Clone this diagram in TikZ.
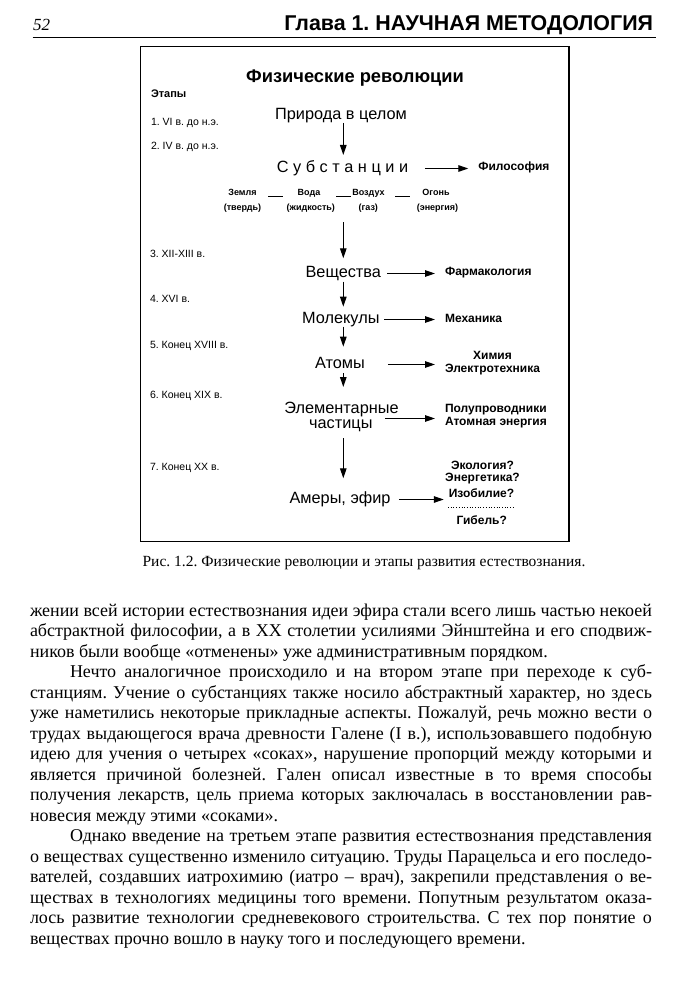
\documentclass[tikz,border=0pt]{standalone}
\usepackage{fontspec}
\setmainfont{Liberation Serif}
\newfontfamily\sansf{Liberation Sans}
\usetikzlibrary{arrows.meta,calc}
\frenchspacing
\newcommand\fsz[1]{\fontsize{#1}{#1}\selectfont}
\newcommand\jfull[1]{\makebox[622pt][s]{#1}}
\newcommand\jind[1]{\makebox[582pt][s]{#1}}
\begin{document}
\frenchspacing
\begin{tikzpicture}[x=1pt,y=-1pt,
  every node/.style={inner sep=0pt,outer sep=0pt},
  bodyline/.style={anchor=base west,font=\fsz{18}},
  stagelbl/.style={anchor=base west,font=\sansf\fsz{10.5}},
  mainlbl/.style={anchor=base,font=\sansf\fsz{16.3},text height=11pt,text depth=3pt},
  sidelbl/.style={font=\sansf\bfseries\fsz{12}},
  elemlbl/.style={anchor=base,font=\sansf\bfseries\fsz{9},text height=7pt,text depth=2pt},
  arr/.style={line width=1.2pt,-{Triangle[length=10pt,width=6.5pt]}},
  bar/.style={line width=0.9pt}
]
\useasboundingbox (0,0) rectangle (683,1000);
\fill[white] (0,0) rectangle (683,1000);

% header
\node[anchor=base west,font=\itshape\fsz{17}] (pnum) at (33,31) {52};
\node[anchor=base east,font=\sansf\bfseries\fsz{21.4}] (chap) at (653,31) {Глава 1. НАУЧНАЯ МЕТОДОЛОГИЯ};
\coordinate (ruleL) at (32.7,37.5);
\coordinate (ruleR) at (655.5,37.5);
\draw[line width=1.3pt] (ruleL) -- (ruleR);

% figure frame
\coordinate (boxNW) at (140.5,46.5);
\coordinate (boxSE) at (569,541.5);
\draw[line width=1.8pt] (boxNW) rectangle (boxSE);

\node[anchor=base,font=\sansf\bfseries\fsz{18.3}] (title) at (355,82.5) {Физические революции};

% stages
\node[anchor=base west,font=\sansf\bfseries\fsz{11}] (etapy) at (151,98) {Этапы};
\node[stagelbl] (s1) at (151,126) {1. VI в. до н.э.};
\node[stagelbl] (s2) at (151,150) {2. IV в. до н.э.};
\node[stagelbl] (s3) at (150,257) {3. XII-XIII в.};
\node[stagelbl] (s4) at (150,302.5) {4. XVI в.};
\node[stagelbl] (s5) at (150,348.5) {5. Конец XVIII в.};
\node[stagelbl] (s6) at (150,398.5) {6. Конец XIX в.};
\node[stagelbl] (s7) at (150,470) {7. Конец XX в.};

% main chain
\coordinate (ax) at (343.3,0);
\node[mainlbl] (prir) at (341,119.5) {Природа в целом};
\node[mainlbl] (subst) at (342.5,172.5) {С у б с т а н ц и и};
\node[mainlbl] (vesh) at (343.3,277.5) {Вещества};
\node[mainlbl] (mol) at (340.8,323.5) {Молекулы};
\node[mainlbl] (atom) at (340,368.5) {Атомы};
\node[mainlbl] (elem) at (341.5,413.5) {Элементарные};
\node[mainlbl] (chast) at (340.8,428.5) {частицы};
\node[mainlbl] (amer) at (340,503.5) {Амеры, эфир};

% elements
\node[elemlbl] (zem) at (242.5,195.5) {Земля};
\node[elemlbl] (voda) at (309,195.5) {Вода};
\node[elemlbl] (vozd) at (368.5,195.5) {Воздух};
\node[elemlbl] (ogon) at (436,195.5) {Огонь};
\node[elemlbl] (tverd) at (242.5,210.5) {(твердь)};
\node[elemlbl] (zhid) at (310.8,210.5) {(жидкость)};
\node[elemlbl] (gaz) at (368.3,210.5) {(газ)};
\node[elemlbl] (energ) at (437.5,210.5) {(энергия)};
\draw[bar] ($(zem.base)!0.5!(voda.base)+(-7.5,1)$) -- ++(15,0);
\draw[bar] ($(voda.base)!0.5!(vozd.base)+(-2.5,1)$) -- ++(15,0);
\draw[bar] ($(vozd.base)!0.5!(ogon.base)+(-7,1)$) -- ++(15,0);

% side labels
\node[sidelbl,anchor=west] (fil) at (478.3,167) {Философия};
\node[sidelbl,anchor=west] (farm) at (445,272.7) {Фармакология};
\node[sidelbl,anchor=west] (meh) at (445,318.3) {Механика};
\node[sidelbl,align=center] (him) at (492.5,363) {Химия\\[1pt]Электротехника};
\node[sidelbl,align=left,anchor=west] (polu) at (445,415.8) {Полупроводники\\[1pt]Атомная энергия};
\node[sidelbl] (eko) at (482.5,465) {Экология?};
\node[sidelbl] (energet) at (482.5,479) {Энергетика?};
\node[sidelbl] (izob) at (481.5,492.7) {Изобилие?};
\node[sidelbl] (gib) at (481.7,520) {Гибель?};
\coordinate (dotL) at (448,507.3);
\coordinate (dotR) at (515,507.3);
\draw[line width=0.7pt,dotted] (dotL) -- (dotR);

% vertical arrows
\draw[arr,shorten <=0.5pt,shorten >=6.5pt] (prir.south -| ax) -- (subst.north -| ax);
\draw[arr,shorten <=9.7pt,shorten >=8.2pt] (zhid.south -| ax) -- (vesh.north -| ax);
\draw[arr,shorten <=1.2pt,shorten >=5.8pt] (vesh.south -| ax) -- (mol.north -| ax);
\draw[arr,shorten <=0pt,shorten >=10.8pt] (mol.south -| ax) -- (atom.north -| ax);
\draw[arr,shorten <=1.8pt,shorten >=15.5pt] (atom.south -| ax) -- (elem.north -| ax);
\draw[arr,shorten <=6.8pt,shorten >=14.2pt] (chast.south -| ax) -- (amer.north -| ax);

% horizontal arrows
\draw[arr,shorten <=16.7pt,shorten >=10pt] (subst.east) -- (subst.east -| fil.west);
\draw[arr,shorten <=6.3pt,shorten >=10pt] (vesh.east) -- (vesh.east -| farm.west);
\draw[arr,shorten <=5pt,shorten >=10pt] (mol.east) -- (mol.east -| meh.west);
\draw[arr,shorten <=23pt,shorten >=10pt] (atom.east) -- (atom.east -| polu.west);
\coordinate (chastR) at ($(chast.east)+(0,-6)$);
\draw[arr,shorten <=13pt,shorten >=10pt] (chastR) -- (chastR -| polu.west);
\draw[arr,shorten <=8.4pt,shorten >=5pt] (amer.east) -- (amer.east -| izob.west);

% caption
\node[anchor=base,font=\fsz{15.5}] (cap) at (364,566) {Рис. 1.2. Физические революции и этапы развития естествознания.};

% body text
\node[bodyline] (l1) at (30,616) {\jfull{жении всей истории естествознания идеи эфира стали всего лишь частью некоей}};
\node[bodyline] (l2) at (30,636.5) {\jfull{абстрактной философии, а в XX столетии усилиями Эйнштейна и его сподвиж-}};
\node[bodyline] (l3) at (30,657) {ников были вообще «отменены» уже административным порядком.};
\node[bodyline] (l4) at (70,677.5) {\jind{Нечто аналогичное происходило и на втором этапе при переходе к суб-}};
\node[bodyline] (l5) at (30,698) {\jfull{станциям. Учение о субстанциях также носило абстрактный характер, но здесь}};
\node[bodyline] (l6) at (30,718.5) {\jfull{уже наметились некоторые прикладные аспекты. Пожалуй, речь можно вести о}};
\node[bodyline] (l7) at (30,739) {\jfull{трудах выдающегося врача древности Галене (I в.), использовавшего подобную}};
\node[bodyline] (l8) at (30,759.5) {\jfull{идею для учения о четырех «соках», нарушение пропорций между которыми и}};
\node[bodyline] (l9) at (30,780) {\jfull{является причиной болезней. Гален описал известные в то время способы}};
\node[bodyline] (l10) at (30,800.5) {\jfull{получения лекарств, цель приема которых заключалась в восстановлении рав-}};
\node[bodyline] (l11) at (30,821) {новесия между этими «соками».};
\node[bodyline] (l12) at (70,841.5) {\jind{Однако введение на третьем этапе развития естествознания представления}};
\node[bodyline] (l13) at (30,862) {\jfull{о веществах существенно изменило ситуацию. Труды Парацельса и его последо-}};
\node[bodyline] (l14) at (30,882.5) {\jfull{вателей, создавших иатрохимию (иатро – врач), закрепили представления о ве-}};
\node[bodyline] (l15) at (30,903) {\jfull{ществах в технологиях медицины того времени. Попутным результатом оказа-}};
\node[bodyline] (l16) at (30,923.5) {\jfull{лось развитие технологии средневекового строительства. С тех пор понятие о}};
\node[bodyline] (l17) at (30,944) {веществах прочно вошло в науку того и последующего времени.};
\end{tikzpicture}
\end{document}
